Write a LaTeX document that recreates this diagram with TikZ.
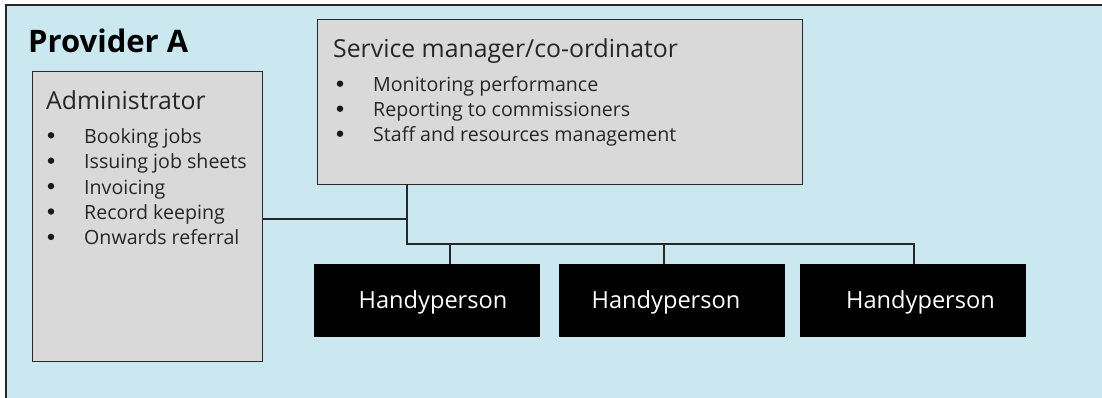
\documentclass[tikz,border=0pt]{standalone}
\usepackage{fontspec}
\setmainfont{Open Sans}
\definecolor{bgblue}{RGB}{203,232,240}
\definecolor{boxgray}{RGB}{217,217,217}
\definecolor{edge}{RGB}{40,40,40}
\tikzset{
  graybox/.style={draw=edge, line width=1.2bp, fill=boxgray, rectangle, inner sep=0pt, anchor=north west},
  blackbox/.style={draw=black, fill=black, rectangle, inner sep=0pt, anchor=north west},
  itemtxt/.style={anchor=base west, inner sep=0pt, font=\fontsize{19.6bp}{24bp}\selectfont, text=black!85},
  bul/.style={circle, fill=black!90, inner sep=0pt, minimum size=6.5bp},
  titletxt/.style={anchor=base west, inner sep=0pt, font=\fontsize{24.8bp}{30bp}\selectfont, text=black!85},
  handytxt/.style={inner sep=0pt, font=\fontsize{23.6bp}{26bp}\selectfont, text=white, anchor=base},
  conn/.style={draw=edge, line width=1.1bp}
}
\begin{document}
\begin{tikzpicture}[x=1bp,y=-1bp]
\useasboundingbox (0,0) rectangle (1102,397);
% outer panel
\fill[bgblue] (6,5) rectangle (1110,405);
\draw[edge, line width=1.6bp] (6,405) -- (6,5) -- (1110,5);
% title
\node[anchor=base west, inner sep=0pt, font=\fontsize{31bp}{36bp}\selectfont\bfseries] (prov) at (28,52) {Provider A};
% boxes
\node[graybox, minimum width=230bp, minimum height=290bp] (admin) at (32,71) {};
\node[graybox, minimum width=485bp, minimum height=165bp] (serv) at (317,19) {};
\node[blackbox, minimum width=225bp, minimum height=72bp] (h1) at (314,264) {};
\node[blackbox, minimum width=225bp, minimum height=72bp] (h2) at (559,264) {};
\node[blackbox, minimum width=225bp, minimum height=72bp] (h3) at (800,264) {};
% admin text
\node[titletxt] (admint) at (46,109) {Administrator};
\foreach \t [count=\i] in {Booking jobs,Issuing job sheets,Invoicing,Record keeping,Onwards referral}{
  \node[bul] (ab\i) at (51,{143.3+25.4*(\i-1)-8}) {};
  \node[itemtxt] (ai\i) at (84,{143.3+25.4*(\i-1)}) {\t};
}
% service text
\node[titletxt] (servt) at (333,57) {Service manager/co-ordinator};
\foreach \t [count=\i] in {Monitoring performance,Reporting to commissioners,Staff and resources management}{
  \node[bul] (sb\i) at (340,{91.7+25*(\i-1)-8}) {};
  \node[itemtxt] (si\i) at (373,{91.7+25*(\i-1)}) {\t};
}
% handyperson text
\node[handytxt] (h1t) at (433,308) {Handyperson};
\node[handytxt] (h2t) at (666,308) {Handyperson};
\node[handytxt] (h3t) at (920.5,308) {Handyperson};
% connectors
\coordinate (j1) at (407,219);
\coordinate (j2) at (407,244);
\coordinate (b1) at (450,244);
\coordinate (b2) at (664,244);
\coordinate (b3) at (914,244);
\draw[conn] (serv.south -| j1) -- (j2) -- (b3) -- (b3 |- h3.north);
\draw[conn] (admin.east |- j1) -- (j1);
\draw[conn] (b1) -- (b1 |- h1.north);
\draw[conn] (b2) -- (b2 |- h2.north);
\end{tikzpicture}
\end{document}
